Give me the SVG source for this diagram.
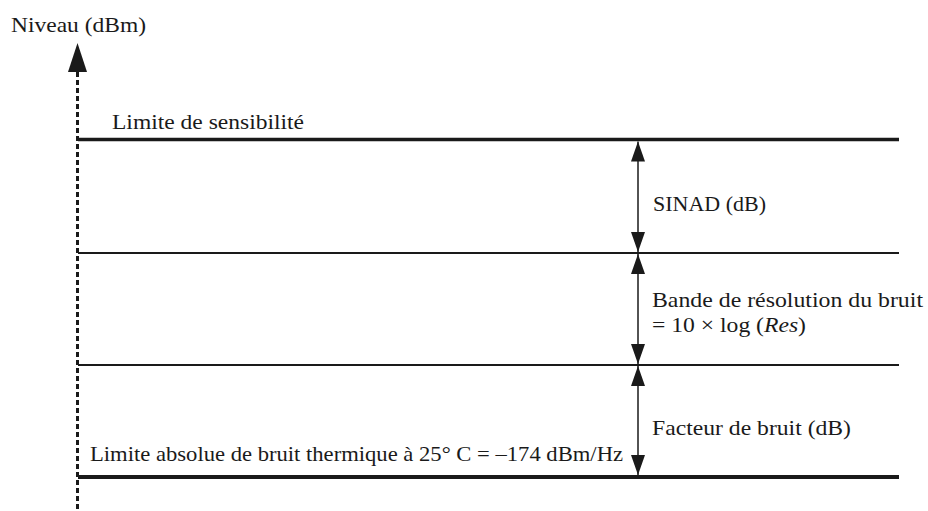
<svg xmlns="http://www.w3.org/2000/svg" width="928" height="511" viewBox="0 0 928 511">
  <style>
    text { font-family: "Liberation Serif", "Times New Roman", serif; font-size: 22px; fill: #1a1a1a; }
    .lvl { stroke: #1a1a1a; fill: none; }
    .thick { stroke-width: 3.5; }
    .thin { stroke-width: 2; }
    .dim { stroke: #1a1a1a; stroke-width: 1.5; fill: none; marker-start: url(#ah); marker-end: url(#ah); }
    .axis { stroke: #1a1a1a; stroke-width: 3; stroke-dasharray: 5 3; fill: none; }
  </style>
  <defs>
    <marker id="ah" viewBox="0 0 20 14" refX="20" refY="7" markerWidth="20" markerHeight="14" markerUnits="userSpaceOnUse" orient="auto-start-reverse">
      <path d="M0,0 L20,7 L0,14 Z" fill="#1a1a1a"/>
    </marker>
  </defs>
  <rect width="928" height="511" fill="#fff"/>

  <g id="axis">
    <line class="axis" x1="77.5" y1="72" x2="77.5" y2="511"/>
    <path d="M77.5,43 L87,72 L68,72 Z" fill="#1a1a1a"/>
    <text x="11" y="32" textLength="135" lengthAdjust="spacingAndGlyphs">Niveau (dBm)</text>
  </g>

  <g id="limite-sensibilite">
    <line class="lvl thick" x1="78" y1="139.5" x2="899" y2="139.5"/>
    <text x="112" y="129" textLength="192" lengthAdjust="spacingAndGlyphs">Limite de sensibilité</text>
  </g>

  <g id="niveau-2">
    <line class="lvl thin" x1="78" y1="253" x2="899" y2="253"/>
  </g>

  <g id="niveau-3">
    <line class="lvl thin" x1="78" y1="365" x2="899" y2="365"/>
  </g>

  <g id="limite-bruit-thermique">
    <line class="lvl" stroke-width="4" x1="78" y1="477" x2="899" y2="477"/>
    <text x="90" y="461" textLength="533" lengthAdjust="spacingAndGlyphs">Limite absolue de bruit thermique à 25° C = –174 dBm/Hz</text>
  </g>

  <g id="sinad">
    <text x="653" y="211" textLength="113" lengthAdjust="spacingAndGlyphs">SINAD (dB)</text>
  </g>

  <g id="bande-resolution">
    <text x="652" y="307" textLength="271" lengthAdjust="spacingAndGlyphs">Bande de résolution du bruit</text>
    <text x="652" y="332" textLength="154" lengthAdjust="spacingAndGlyphs">= 10 × log (<tspan font-style="italic">Res</tspan>)</text>
  </g>

  <g id="facteur-bruit">
    <text x="652" y="435" textLength="199" lengthAdjust="spacingAndGlyphs">Facteur de bruit (dB)</text>
  </g>

  <g id="connectors">
    <line class="dim" x1="638" y1="141.5" x2="638" y2="252"/>
    <line class="dim" x1="638" y1="254" x2="638" y2="364"/>
    <line class="dim" x1="638" y1="366" x2="638" y2="475"/>
  </g>

  <text x="842" y="519" style="font-size:13px">1026-03</text>
</svg>
